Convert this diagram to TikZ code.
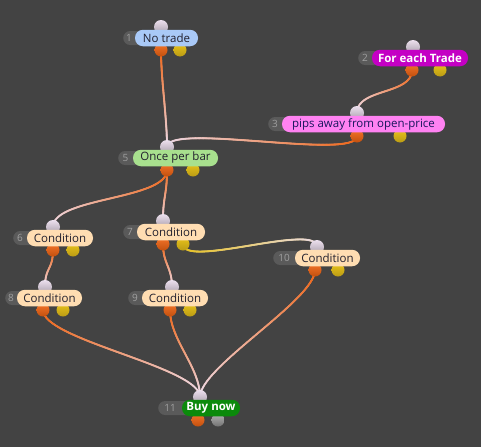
\documentclass[tikz,border=0pt]{standalone}
\usepackage{fontspec}
\setmainfont{Open Sans}
\usetikzlibrary{decorations.markings}
\pgfdeclarelayer{back}
\pgfdeclarelayer{edges}
\pgfsetlayers{back,edges,main}
\definecolor{bgc}{HTML}{434343}
\definecolor{darkp}{HTML}{5A5A5A}
\definecolor{numc}{HTML}{A0A0A0}
\definecolor{orc}{HTML}{F26412}
\definecolor{yec}{HTML}{E8C21A}
\definecolor{lavc}{HTML}{EADCEC}
\definecolor{txtc}{HTML}{22202E}
\definecolor{blueP}{HTML}{A9C9F7}
\definecolor{magP}{HTML}{C400C4}
\definecolor{pinkP}{HTML}{FF82F2}
\definecolor{greenP}{HTML}{A8E08E}
\definecolor{peachP}{HTML}{FFDDB2}
\definecolor{buyP}{HTML}{0B8A0B}
\begin{document}
\begin{tikzpicture}[x=1pt,y=-1pt,
  darkpill/.style={draw=none,fill=darkp,rectangle,rounded corners=7pt,minimum height=14pt,inner sep=0pt,anchor=west},
  pill/.style={draw=none,rectangle,rounded corners=8pt,minimum height=16.5pt,inner sep=0pt,text=txtc,font=\fontsize{11.5}{13}\selectfont},
  boldpill/.style={pill,text=white,font=\fontsize{11.5}{13}\selectfont\bfseries},
  numlab/.style={text=numc,inner sep=0pt,font=\fontsize{10}{12}\selectfont},
  inport/.style={circle,minimum size=14pt,inner sep=0pt,draw=none,top color=lavc!90!white,bottom color=lavc!60!black!70!lavc},
  outport/.style={circle,minimum size=13pt,inner sep=0pt,draw=none,top color=orc!90!white,bottom color=orc!80!black},
  yport/.style={circle,minimum size=13pt,inner sep=0pt,draw=none,top color=yec,bottom color=yec!80!black},
  gport/.style={circle,minimum size=13pt,inner sep=0pt,draw=none,top color=gray!60!white,bottom color=gray!90!black},
  edge/.style={line width=1.6pt,draw=#1!50!lavc,postaction={decorate},
    decoration={markings,mark=between positions 0 and 1 step 0.7pt with {%
      \pgfmathsetmacro\gp{min(100,max(0,(\pgfkeysvalueof{/pgf/decoration/mark info/distance from start})/(\pgfdecoratedpathlength)*100))}%
      \fill[color=lavc!\gp!#1] (0,0) circle (1.05pt);}}},
  edge/.default=orc
]
\useasboundingbox (0,0) rectangle (481,447);
\begin{pgfonlayer}{back}
\fill[bgc] (0,0) rectangle (481,447);
\end{pgfonlayer}

% node 1
\node[darkpill,minimum width=43.5pt] (d1) at (123,38) {};
\node[inport] (n1-in) at (161,27) {};
\node[outport] (n1-out) at (161,50) {};
\node[yport] (n1-y) at (180,50) {};
\node[pill,fill=blueP,minimum width=63pt] (n1) at (166.5,38) {No trade};
\node[numlab] (l1) at (129,38) {1};

% node 2
\node[darkpill,minimum width=62pt] (d2) at (358,58) {};
\node[inport] (n2-in) at (413,47) {};
\node[outport] (n2-out) at (412,70) {};
\node[yport] (n2-y) at (440,70) {};
\node[boldpill,fill=magP,minimum width=96pt] (n2) at (420,58) {For each Trade};
\node[numlab] (l2) at (365,58) {2};

% node 3
\node[darkpill,minimum width=95pt] (d3) at (268,124) {};
\node[inport] (n3-in) at (357,113) {};
\node[outport] (n3-out) at (357,136) {};
\node[yport] (n3-y) at (400,136) {};
\node[pill,fill=pinkP,minimum width=163pt,text=black!20!blue!30!txtc] (n3) at (363.5,124) {pips away from open-price};
\node[numlab] (l3) at (275,124) {3};

% node 5
\node[darkpill,minimum width=57.5pt] (d5) at (118,158) {};
\node[inport] (n5-in) at (167,147) {};
\node[outport] (n5-out) at (167,170) {};
\node[yport] (n5-y) at (193,170) {};
\node[pill,fill=greenP,minimum width=85pt] (n5) at (175.5,158) {Once per bar};
\node[numlab] (l5) at (125.5,158) {5};

% node 6
\node[darkpill,minimum width=47pt] (d6) at (13,238) {};
\node[inport] (n6-in) at (53,227) {};
\node[outport] (n6-out) at (53,250) {};
\node[yport] (n6-y) at (73,250) {};
\node[pill,fill=peachP,minimum width=66pt] (n6) at (60,238) {Condition};
\node[numlab] (l6) at (20,238) {6};

% node 7
\node[darkpill,minimum width=48pt] (d7) at (123,232) {};
\node[inport] (n7-in) at (163,221) {};
\node[outport] (n7-out) at (163,244) {};
\node[yport] (n7-y) at (183,244) {};
\node[pill,fill=peachP,minimum width=68pt] (n7) at (171,232) {Condition};
\node[numlab] (l7) at (130,232) {7};

% node 10
\node[darkpill,minimum width=54.5pt] (d10) at (273,258) {};
\node[inport] (n10-in) at (317,247) {};
\node[outport] (n10-out) at (315,270) {};
\node[yport] (n10-y) at (338,270) {};
\node[pill,fill=peachP,minimum width=65pt] (n10) at (327.5,258) {Condition};
\node[numlab] (l10) at (284,258) {10};

% node 8
\node[darkpill,minimum width=44.5pt] (d8) at (5,298) {};
\node[inport] (n8-in) at (45,287) {};
\node[outport] (n8-out) at (43,310) {};
\node[yport] (n8-y) at (63,310) {};
\node[pill,fill=peachP,minimum width=65pt] (n8) at (49.5,298) {Condition};
\node[numlab] (l8) at (11,298) {8};

% node 9
\node[darkpill,minimum width=47pt] (d9) at (128,298) {};
\node[inport] (n9-in) at (172,287) {};
\node[outport] (n9-out) at (170,310) {};
\node[yport] (n9-y) at (190,310) {};
\node[pill,fill=peachP,minimum width=66pt] (n9) at (175,298) {Condition};
\node[numlab] (l9) at (135,298) {9};

% node 11
\node[darkpill,minimum width=53pt] (d11) at (158,408) {};
\node[inport] (n11-in) at (200,397) {};
\node[outport] (n11-out) at (198,420) {};
\node[gport] (n11-g) at (218,420) {};
\node[boldpill,fill=buyP,minimum width=58pt] (n11) at (211,408) {Buy now};
\node[numlab] (l11) at (170,408) {11};

\begin{pgfonlayer}{edges}
\draw[edge] (n1-out.center) .. controls +(0,30) and +(0,-30) .. (n5-in.center);
\draw[edge] (n2-out.center) .. controls +(0,25) and +(0,-25) .. (n3-in.center);
\draw[edge] (n3-out.center) .. controls +(0,25) and +(0,-25) .. (n5-in.center);
\draw[edge] (n5-out.center) .. controls +(0,30) and +(0,-30) .. (n6-in.center);
\draw[edge] (n5-out.center) .. controls +(0,25) and +(0,-25) .. (n7-in.center);
\draw[edge] (n6-out.center) .. controls +(0,20) and +(0,-20) .. (n8-in.center);
\draw[edge] (n7-out.center) .. controls +(0,20) and +(0,-20) .. (n9-in.center);
\draw[edge=yec] (n7-y.center) .. controls +(0,25) and +(0,-25) .. (n10-in.center);
\draw[edge] (n8-out.center) .. controls +(0,30) and +(0,-30) .. (n11-in.center);
\draw[edge] (n9-out.center) .. controls +(0,30) and +(0,-30) .. (n11-in.center);
\draw[edge] (n10-out.center) .. controls +(0,30) and +(0,-30) .. (n11-in.center);
\end{pgfonlayer}
\end{tikzpicture}
\end{document}
